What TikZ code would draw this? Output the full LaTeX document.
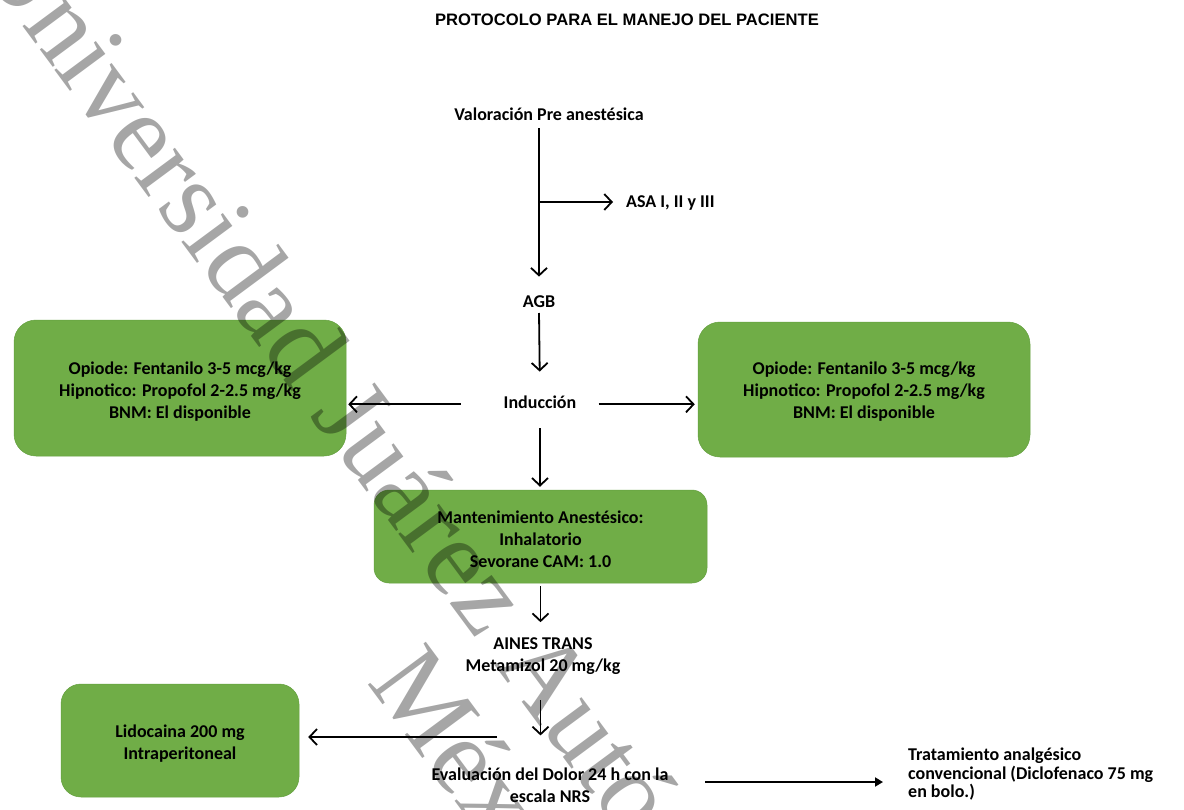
\documentclass[tikz,border=0pt]{standalone}
\usepackage{fontspec}
\setmainfont{Carlito}
\newfontfamily\titlefont{Liberation Sans}
\newfontfamily\wmfont{Liberation Serif}
\usetikzlibrary{arrows.meta}
\definecolor{boxgreen}{HTML}{70AD47}
\definecolor{boxedge}{HTML}{64A03F}
\begin{document}
\begin{tikzpicture}[x=1pt,y=-1pt,
  txt/.style={font=\fontsize{18}{22}\selectfont\bfseries, inner sep=0pt, align=center},
  one/.style={txt, text height=13pt, text depth=4pt},
  gbox/.style={txt, fill=boxgreen, draw=boxedge, line width=0.5pt, rounded corners=#1},
  gbox/.default=20pt,
  arr/.style={line width=1.8pt, -{Straight Barb[length=7.5pt,width=16pt,line width=1.8pt]}},
  arrt/.style={line width=1.8pt, -{Triangle[length=8pt,width=9pt]}},
  wm/.style={font=\wmfont\fontsize{110}{110}\selectfont, text=black, text opacity=0.35, inner sep=0pt, anchor=base west, rotate=-53.5}
]
\useasboundingbox (0,0) rectangle (1184,809);
\fill[white] (0,0) rectangle (1184,809);

% title
\node[font=\titlefont\fontsize{16.6}{19}\selectfont\bfseries] (title) at (627,20) {PROTOCOLO PARA EL MANEJO DEL PACIENTE};

% text nodes
\node[one] (val) at (549,116.3) {Valoración Pre anestésica};
\node[one, anchor=west] (asa) at (626,203.3) {ASA I, II y III};
\node[one] (agb) at (539,303.3) {AGB};
\node[one] (ind) at (540,404.3) {Inducción};

% boxes
\node[gbox=22pt, minimum width=332pt, minimum height=136pt] (boxL) at (180,388)
  {\rule{0pt}{20.4pt}Opiode: Fentanilo 3-5 mcg/kg\\Hipnotico: Propofol 2-2.5 mg/kg\\BNM: El disponible};
\node[gbox=22pt, minimum width=332pt, minimum height=135pt] (boxR) at (864,389.5)
  {\rule{0pt}{17.4pt}Opiode: Fentanilo 3-5 mcg/kg\\Hipnotico: Propofol 2-2.5 mg/kg\\BNM: El disponible};
\node[gbox=15pt, minimum width=333pt, minimum height=93pt] (mant) at (540.5,536.5)
  {\rule{0pt}{18.5pt}Mantenimiento Anestésico:\\Inhalatorio\\Sevorane CAM: 1.0};
\node[txt] (aines) at (543,655.8) {AINES TRANS\\Metamizol 20 mg/kg};
\node[txt] (eval) at (550,785) {Evaluación del Dolor 24 h con la\\escala NRS};
\node[gbox=20pt, minimum width=238pt, minimum height=113pt] (lido) at (180,740.5)
  {\rule{0pt}{18.4pt}Lidocaina 200 mg\\Intraperitoneal};
\node[font=\fontsize{18}{18.5}\selectfont\bfseries, inner sep=0pt, align=left, anchor=west] (trat) at (908,774.3)
  {Tratamiento analgésico\\convencional (Diclofenaco 75 mg\\en bolo.)};

% connectors
\coordinate (br) at (539,202);
\coordinate (lb) at (497,737);
\draw[arr, shorten <=3pt, shorten >=18pt] (val.south -| agb.north) -- (agb.north);
\draw[arr, shorten >=13pt] (br) -- (br -| asa.west);
\draw[arr, shorten <=1pt, shorten >=24pt] (agb.south) -- (ind.north);
\draw[arr, shorten <=43pt, shorten >=2pt] (ind.west) -- (ind.west -| boxL.east);
\draw[arr, shorten <=22pt, shorten >=3pt] (ind.east) -- (ind.east -| boxR.west);
\draw[arr, shorten <=15pt, shorten >=3pt] (ind.south) -- (ind.south |- mant.north);
\draw[arr, shorten <=3pt, shorten >=15pt] (mant.south) -- (mant.south |- aines.north);
\draw[arr, shorten <=25.6pt, shorten >=32pt] (aines.south -| mant.south) -- (eval.north -| mant.south);
\draw[arr, shorten >=9pt] (lb) -- (lb -| lido.east);
\draw[arrt, shorten >=25pt] ([xshift=-203pt,yshift=3pt]trat.west |- eval.east) -- ([yshift=3pt]trat.west |- eval.east);

% watermark
\node[wm] (wm1) at (-26.3,-39.4) {Universidad Juárez Autónoma de Tabasco};
\node[wm] (wm2) at (366.7,682.5) {México};
\end{tikzpicture}
\end{document}
